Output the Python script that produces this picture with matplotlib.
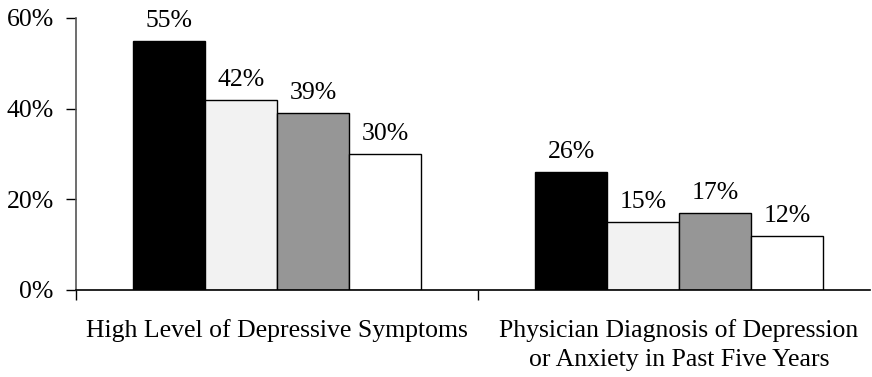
import matplotlib
matplotlib.use("Agg")
import matplotlib.pyplot as plt
import numpy as np

categories = ["High Level of Depressive Symptoms",
              "Physician Diagnosis of Depression\nor Anxiety in Past Five Years"]
series_values = [
    [55, 26],
    [42, 15],
    [39, 17],
    [30, 12],
]
series_colors = ["#000000", "#f2f2f2", "#969696", "#ffffff"]
y_ticks = [0, 20, 40, 60]
y_tick_labels = ["0%", "20%", "40%", "60%"]

plt.rcParams["font.family"] = ["Liberation Serif", "DejaVu Serif"]
FS = 18.5

fig = plt.figure(figsize=(8.72, 3.77), dpi=100)
ax = fig.add_axes([76 / 872, 87 / 377, 794 / 872, 272 / 377])

n = len(series_values)
bar_w = 0.179
x = np.arange(len(categories))
for i, (vals, col) in enumerate(zip(series_values, series_colors)):
    pos = x + (i - (n - 1) / 2) * bar_w
    ax.bar(pos, vals, width=bar_w, color=col, edgecolor="black",
           linewidth=1.0, zorder=2)
    for px, v in zip(pos, vals):
        ax.annotate(f"{v}%", (px, v), xytext=(0, 6.5), textcoords="offset points",
                    ha="center", va="bottom", fontsize=FS)

ax.set_xlim(-0.5, 1.475)
ax.set_ylim(0, 60)
ax.set_yticks(y_ticks)
ax.set_yticklabels(y_tick_labels, fontsize=FS)
ax.set_xticks([-0.5, 0.5])
ax.set_xticklabels([])
ax.tick_params(axis="y", direction="out", length=7, width=1, pad=9)
ax.tick_params(axis="x", direction="out", length=7, width=1)

for i, c in enumerate(categories):
    ax.text(x[i], -0.105, c, transform=ax.get_xaxis_transform(),
            ha="center", va="top", fontsize=FS, linespacing=1.45)

for s in ["top", "right"]:
    ax.spines[s].set_visible(False)
ax.spines["left"].set_color("#555555")
ax.spines["left"].set_linewidth(1.2)
ax.spines["bottom"].set_linewidth(1.2)

fig.savefig("out.png", dpi=100)
